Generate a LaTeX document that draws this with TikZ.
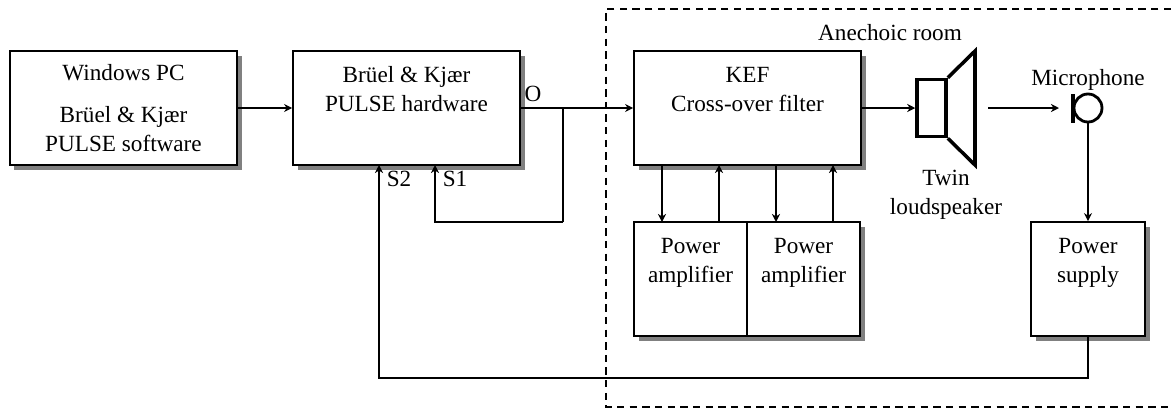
\documentclass[tikz,border=0pt]{standalone}
\usepackage{fontspec}
\setmainfont{Liberation Serif}
\usetikzlibrary{shadows, arrows.meta}
\tikzset{
	blockbox/.style={draw, fill=white, line width=1pt, align=center, inner sep=0pt,
		drop shadow={shadow xshift=0.09cm, shadow yshift=-0.09cm, fill=black!50, opacity=1}},
	widebox/.style={blockbox, minimum width=227*0.02cm, minimum height=114*0.02cm},
	smallbox/.style={blockbox, minimum width=113*0.02cm, minimum height=114*0.02cm},
	sig/.style={->, line width=1.05pt},
	txt/.style={inner sep=0pt, align=center},
	horn/.style={line width=2pt, line join=miter}
}
\begin{document}
\begin{tikzpicture}[x=0.02cm, y=-0.02cm, >={Stealth[length=4.6pt, width=4.6pt]},
	every node/.append style={font=\fontsize{13.2}{16.5}\selectfont}]
	\useasboundingbox (0,0) rectangle (1171,410);
	
	% anechoic room (open on the right)
	\draw[line width=0.8pt, dash pattern=on 4.2pt off 3pt] (1171,9) -- (606,9) -- (606,407) -- (1171,407);
	\node[txt] (room) at (890,33) {Anechoic room};
	
	% blocks
	\node[widebox] (pc) at (123.5,108) {Windows PC\\[7pt]Brüel \& Kjær\\PULSE software};
	\node[widebox] (hw) at (406.5,108) {Brüel \& Kjær\\PULSE hardware\\[5pt]\mbox{}};
	\node[widebox] (kef) at (747.5,108) {KEF\\Cross-over filter\\[5pt]\mbox{}};
	\node[smallbox] (ampa) at (690.5,279) {Power\\amplifier\\[5pt]\mbox{}};
	\node[smallbox] (ampb) at (803.5,279) {Power\\amplifier\\[5pt]\mbox{}};
	\node[smallbox, minimum width=114*0.02cm] (supply) at (1088,279) {Power\\supply\\[5pt]\mbox{}};
	
	% loudspeaker
	\node[draw, horn, fill=white, minimum width=29*0.02cm, minimum height=57*0.02cm, inner sep=0pt] (spk) at (931.5,108) {};
	\draw[horn] (spk.north east) -- (975,51) -- (975,165) -- (spk.south east);
	\node[txt] (twin) at (946,195) {Twin\\loudspeaker};
	
	% microphone
	\node[draw, circle, line width=1.6pt, minimum size=28*0.02cm, inner sep=0pt] (mic) at (1088,108) {};
	\draw[line width=1.8pt] (1073,94) -- (1073,123);
	\node[txt] (miclabel) at (1088,80) {Microphone};
	
	% free ends
	\coordinate (branch) at (563,108);
	\coordinate (hwsone) at (435,165);
	\coordinate (hwstwo) at (379,165);
	\coordinate (fbone) at (563,222);
	\coordinate (fbtwo) at (379,378);
	\coordinate (spkout) at (988,108);
	\coordinate (micin) at (1059,108);
	
	% signal path
	\draw[sig] (pc) -- (hw);
	\draw[sig] (hw) -- (kef);
	\draw[sig] (kef) -- (spk);
	\draw[sig] (spkout) -- (micin);
	\draw[sig] (mic.south) -- (supply.north);
	\draw[line width=1pt] (branch) -- (fbone);
	\draw[sig] (fbone) -| (hwsone);
	\draw[sig] (supply.south) |- (fbtwo) -- (hwstwo);
	
	% to and from the amplifiers
	\foreach \px/\nm in {662/ampa, 776/ampb}
		\draw[sig] (\px,165) -- (\px,222);
	\foreach \px/\nm in {719/ampa, 833/ampb}
		\draw[sig] (\px,222) -- (\px,165);
	
	% port labels
	\node[txt] (porto) at (533,94) {O};
	\node[txt] (portstwo) at (399,179) {S2};
	\node[txt] (portsone) at (455,179) {S1};
\end{tikzpicture}
\end{document}
